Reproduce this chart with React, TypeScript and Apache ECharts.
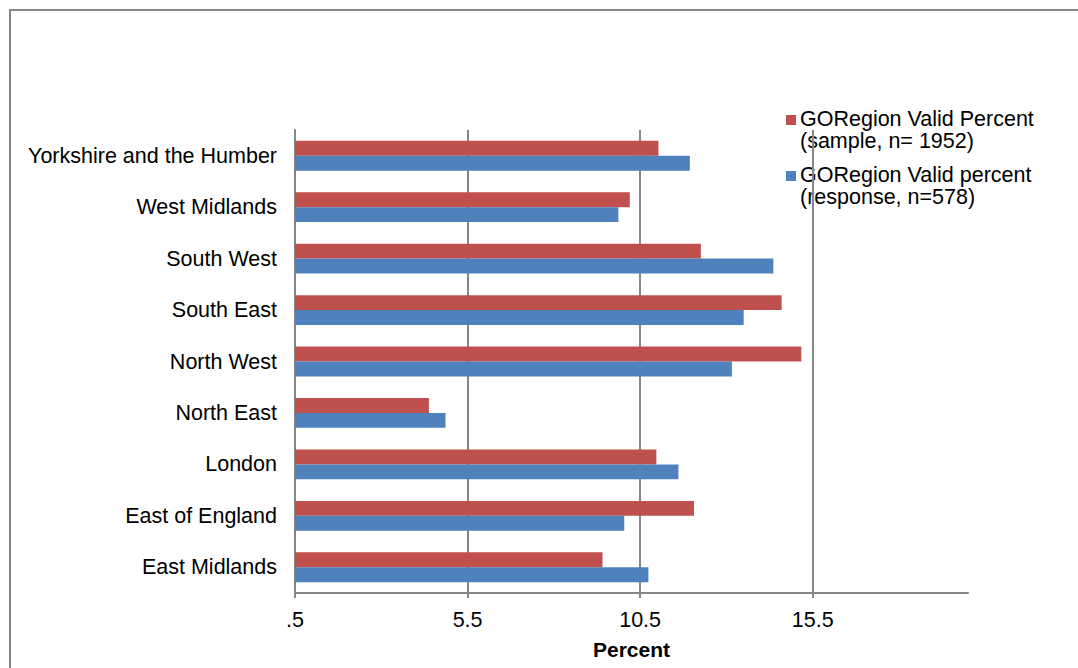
import React, { useEffect, useRef } from "react";
import * as echarts from "echarts";

const categories = [
  "East Midlands",
  "East of England",
  "London",
  "North East",
  "North West",
  "South East",
  "South West",
  "West Midlands",
  "Yorkshire and the Humber",
];
const sampleValues = [9.41, 12.06, 10.97, 4.38, 15.17, 14.6, 12.26, 10.2, 11.03];
const responseValues = [10.74, 10.04, 11.61, 4.86, 13.16, 13.5, 14.36, 9.87, 11.94];
const seriesNames = [
  "GORegion Valid Percent\n(sample, n= 1952)",
  "GORegion Valid percent\n(response, n=578)",
];
const seriesColors = ["#C0504D", "#4F81BD"];
const axisMin = 0.5;
const axisMax = 20;
const tickStep = 5;
const axisTitle = "Percent";

const FONT = "'Liberation Sans', Arial, sans-serif";

export default function App() {
  const ref = useRef<HTMLDivElement>(null);
  useEffect(() => {
    if (!ref.current) return;
    const chart = echarts.init(ref.current, undefined, { renderer: "svg" });
    const fmt = (v: number) => {
      const real = +(v + axisMin).toFixed(2);
      return String(real).replace(/^0\./, ".");
    };
    const legendItems: any[] = [];
    seriesNames.forEach((name, i) => {
      const top = 108 + i * 56;
      legendItems.push({
        type: "rect",
        shape: { x: 786, y: top + 7, width: 10, height: 10 },
        style: { fill: seriesColors[i] },
      });
      legendItems.push({
        type: "text",
        x: 800,
        y: top,
        style: {
          text: name,
          font: `21.5px ${FONT}`,
          fill: "#000",
          lineHeight: 22,
          verticalAlign: "top",
        },
      });
    });
    chart.setOption({
      animation: false,
      backgroundColor: "#fff",
      grid: { left: 295, right: 110, top: 130, bottom: 75, containLabel: false },
      xAxis: {
        type: "value",
        min: 0,
        max: axisMax - axisMin,
        interval: tickStep,
        name: axisTitle,
        nameLocation: "middle",
        nameGap: 46,
        nameTextStyle: { fontFamily: FONT, fontSize: 21, fontWeight: "bold", color: "#000" },
        axisLine: { show: true, lineStyle: { color: "#868686", width: 2 } },
        axisTick: { show: true, length: 5, lineStyle: { color: "#868686", width: 2 } },
        axisLabel: {
          formatter: fmt,
          fontFamily: FONT,
          fontSize: 21.5,
          color: "#000",
          margin: 16,
          showMaxLabel: false,
        },
        splitLine: {
          show: true,
          showMinLine: false,
          showMaxLine: false,
          lineStyle: { color: "#868686", width: 2 },
        },
      },
      yAxis: {
        type: "category",
        data: categories,
        axisLine: { show: true, lineStyle: { color: "#868686", width: 2 } },
        axisTick: { show: false },
        axisLabel: { fontFamily: FONT, fontSize: 21.5, color: "#000", margin: 18 },
      },
      series: [
        {
          name: seriesNames[0],
          type: "bar",
          data: sampleValues.map((v) => v - axisMin),
          itemStyle: { color: seriesColors[0] },
          barGap: "0%",
          barCategoryGap: "42%",
        },
        {
          name: seriesNames[1],
          type: "bar",
          data: responseValues.map((v) => v - axisMin),
          itemStyle: { color: seriesColors[1] },
          barGap: "0%",
          barCategoryGap: "42%",
        },
      ],
      graphic: [
        {
          type: "rect",
          shape: { x: 10, y: 10, width: 1090, height: 700 },
          style: { fill: "none", stroke: "#868686", lineWidth: 2 },
          silent: true,
        },
        ...legendItems,
      ],
    });
    return () => chart.dispose();
  }, []);
  return (
    <div
      ref={ref}
      style={{ position: "fixed", left: 0, top: 0, width: 1078, height: 668 }}
    />
  );
}
